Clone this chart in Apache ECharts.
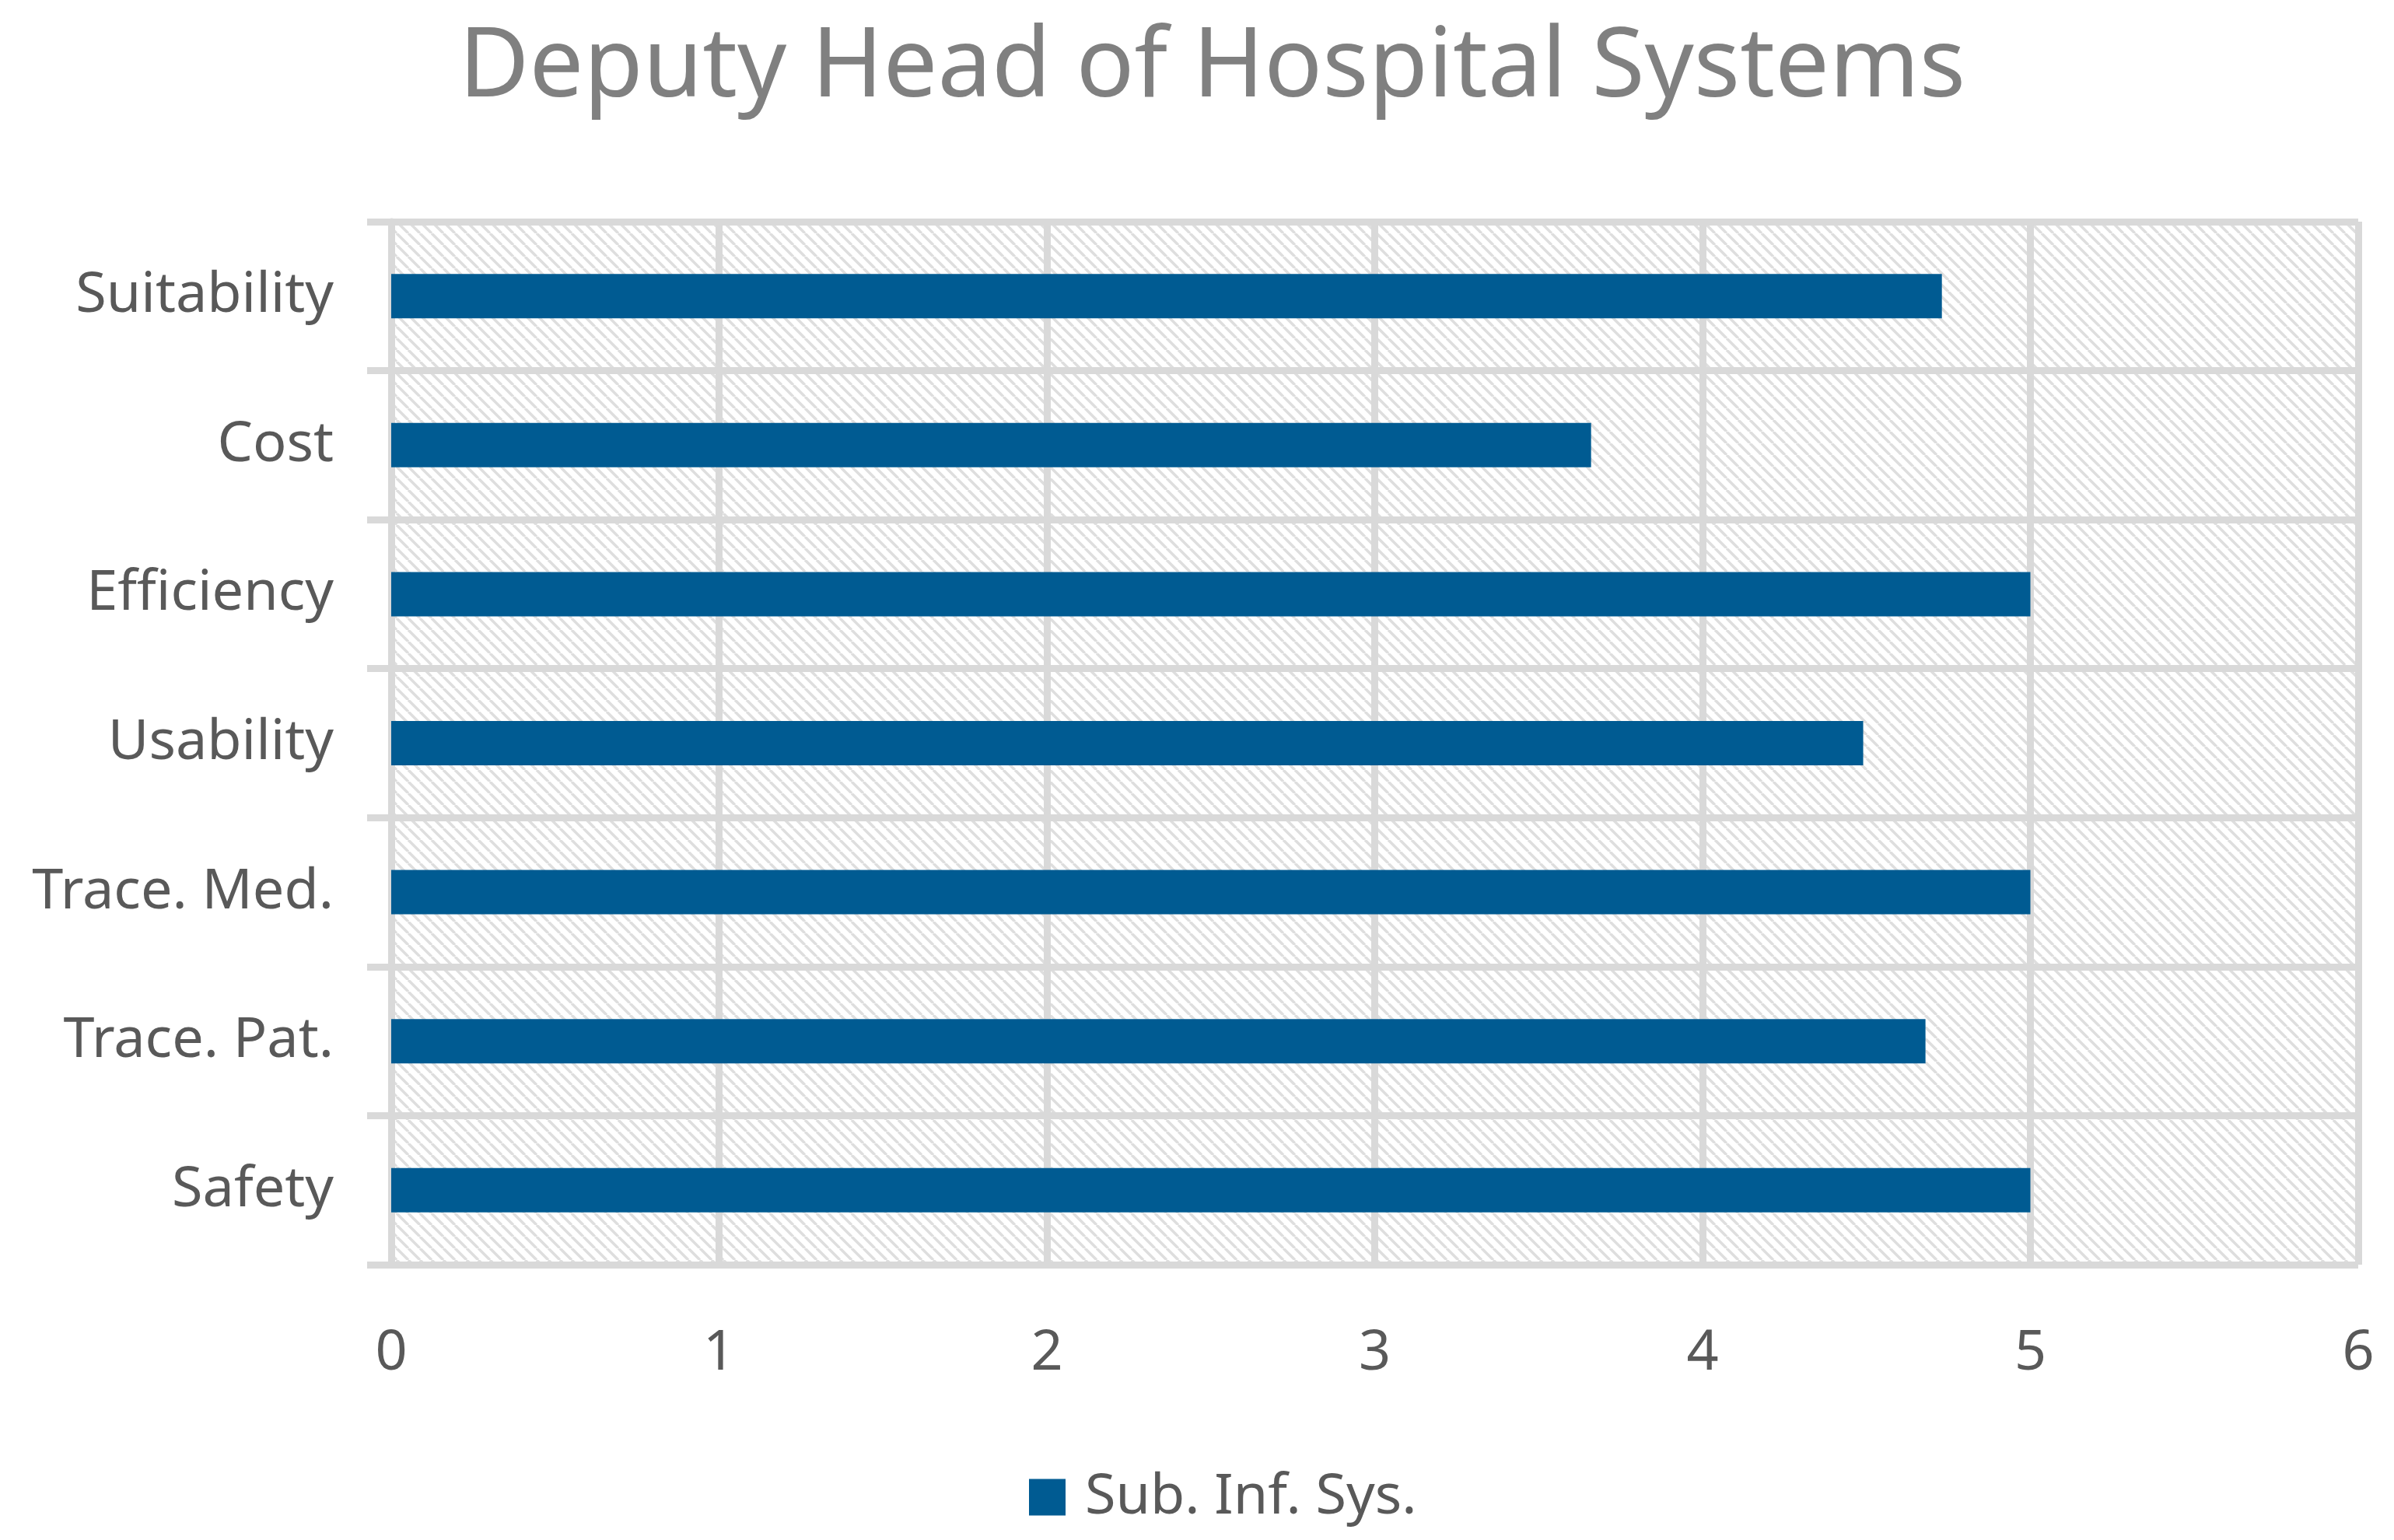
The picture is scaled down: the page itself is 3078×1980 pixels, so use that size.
<!DOCTYPE html>
<html>
<head>
<meta charset="utf-8">
<script src="https://cdn.jsdelivr.net/npm/echarts@6/dist/echarts.min.js"></script>
<style>
html,body{margin:0;padding:0;background:#fff;}
#chart{width:3078px;height:1980px;}
</style>
</head>
<body>
<div id="chart"></div>
<script>
var categories = ['Safety', 'Trace. Pat.', 'Trace. Med.', 'Usability', 'Efficiency', 'Cost', 'Suitability'];
var values = [5, 4.68, 5, 4.49, 5, 3.66, 4.73];
var seriesName = 'Sub. Inf. Sys.';
var titleText = 'Deputy Head of Hospital Systems';
var xTicks = [0, 1, 2, 3, 4, 5, 6];

function makeHatch() {
  var p = 15;
  var c = document.createElement('canvas');
  c.width = p; c.height = p;
  var ctx = c.getContext('2d');
  ctx.fillStyle = '#ffffff';
  ctx.fillRect(0, 0, p, p);
  ctx.strokeStyle = '#dedede';
  ctx.lineWidth = 3.5;
  for (var k = -1; k <= 1; k++) {
    ctx.beginPath();
    ctx.moveTo(k * p, 0);
    ctx.lineTo(k * p + p, p);
    ctx.stroke();
  }
  return c;
}

var chart = echarts.init(document.getElementById('chart'), null, {renderer: 'canvas', devicePixelRatio: 1});
var font = 'Noto Sans';
chart.setOption({
  backgroundColor: '#ffffff',
  animation: false,
  title: {
    text: titleText,
    left: 590,
    top: 27,
    padding: 0,
    textStyle: {fontFamily: font, fontSize: 124, fontWeight: 'normal', color: '#808080'}
  },
  legend: {
    data: [seriesName],
    left: 1318,
    top: 1884,
    itemWidth: 47,
    itemHeight: 47,
    icon: 'rect',
    textStyle: {fontFamily: font, fontSize: 72, color: '#595959', padding: [0, 0, 0, 20]}
  },
  grid: {
    left: 503, right: 46, top: 285, bottom: 354,
    show: true,
    borderWidth: 0,
    backgroundColor: {image: makeHatch(), repeat: 'repeat'}
  },
  xAxis: {
    type: 'value',
    min: xTicks[0],
    max: xTicks[xTicks.length - 1],
    interval: 1,
    axisLine: {show: false},
    axisTick: {show: false},
    splitLine: {show: true, lineStyle: {color: '#d9d9d9', width: 9}},
    axisLabel: {fontFamily: font, fontSize: 72, color: '#595959', margin: 114, verticalAlign: 'middle'}
  },
  yAxis: {
    type: 'category',
    data: categories,
    axisLine: {show: true, lineStyle: {color: '#d9d9d9', width: 9}},
    axisTick: {show: true, length: 31, lineStyle: {color: '#d9d9d9', width: 9}},
    splitLine: {show: true, lineStyle: {color: '#d9d9d9', width: 9}},
    axisLabel: {fontFamily: font, fontSize: 72, color: '#595959', margin: 74}
  },
  series: [{
    name: seriesName,
    type: 'bar',
    data: values,
    barWidth: 57,
    itemStyle: {color: '#005b92'}
  }]
});
</script>
</body>
</html>
